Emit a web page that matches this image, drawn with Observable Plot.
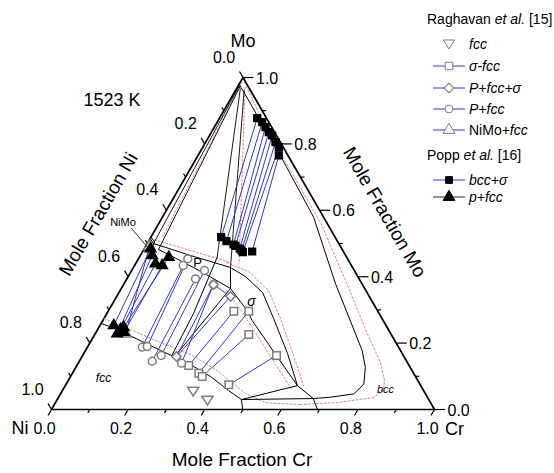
<!DOCTYPE html>
<html><head><meta charset="utf-8">
<script src="https://cdn.jsdelivr.net/npm/d3@7"></script>
<script src="https://cdn.jsdelivr.net/npm/@observablehq/plot@0.6"></script>
<style>
body{margin:0;background:#fff;}
#chart{width:554px;height:473px;}
</style></head><body><div id="chart"></div>
<script>
// ---------- DATA: compositions as [x_Cr, x_Mo] (x_Ni = 1 - x_Cr - x_Mo) ----------
const majorTicks = [0, 0.2, 0.4, 0.6, 0.8, 1.0];
const minorTicks = [0.1, 0.3, 0.5, 0.7, 0.9];
const tickLabels = ["0.0", "0.2", "0.4", "0.6", "0.8", "1.0"];
const frameVertices = [[0, 0], [1, 0], [0, 1], [0, 0]];

// calculated phase boundaries (solid black)
const bccBoundary = [[0, 0.98], [0.01, 0.97], [0.215, 0.765], [0.395, 0.579], [0.552, 0.379], [0.722, 0.178], [0.756, 0.127], [0.777, 0.077], [0.766, 0.047], [0.71, 0.037], [0.667, 0.033], [0.6945, 0]];
const fccBoundary = [[0, 0.259], [0.0451, 0.244], [0.0855, 0.226], [0.1957, 0.178], [0.2951, 0.1355], [0.3654, 0.0994], [0.4335, 0.0572], [0.481, 0.030], [0.499, 0]];
const fccSigmaBccTriangle = [[0.481, 0.030], [0.606, 0.072], [0.667, 0.033], [0.481, 0.030]];
const sigmaOuter = [[0.2535, 0.4277], [0.306, 0.4006], [0.375, 0.3524], [0.443, 0.274], [0.532, 0.1687], [0.606, 0.072]];
const sigmaInner = [[0.2535, 0.4277], [0.285, 0.3645], [0.362, 0.298], [0.390, 0.268], [0.499, 0.1687], [0.606, 0.072]];
const pTop = [[0, 0.515], [0.0163, 0.5], [0.131, 0.4639], [0.2535, 0.4277]];
const pBottom = [[0.0384, 0.4819], [0.0788, 0.4639], [0.1867, 0.4136], [0.285, 0.3645]];
const pSigmaFccLeft = [[0.2032, 0.4587], [0.2262, 0.2892], [0.233, 0.163]];
const pSigmaFccRight = [[0.285, 0.3645], [0.242, 0.159]];
const niMoRegion = [[0, 0.52], [0.016, 0.505], [0.02, 0.49], [0, 0.478]];
const apexLines = [
  [[0.003, 0.975], [0.0163, 0.5]],
  [[0.006, 0.972], [0.0384, 0.4819]],
  [[0.010, 0.966], [0.2032, 0.4587]],
  [[0.022, 0.962], [0.2535, 0.4277]]
];
// second calculation (red dotted)
const dottedLines = [
  [[0.0114, 0.985], [0.1157, 0.8705], [0.264, 0.7199], [0.4207, 0.5633], [0.5733, 0.3886], [0.7098, 0.2289], [0.7882, 0.1416], [0.8258, 0.0873], [0.8382, 0.0572], [0.8227, 0.0361], [0.7362, 0.0211], [0.6426, 0.0151]],
  [[0.2355, 0.4428], [0.3066, 0.4157], [0.3874, 0.3584], [0.4609, 0.2741], [0.5434, 0.1717], [0.6219, 0.0723]],
  [[0.2777, 0.3584], [0.3526, 0.2922], [0.4823, 0.1687], [0.6006, 0.0572]],
  [[0, 0.2741], [0.0858, 0.241], [0.1837, 0.2018], [0.2801, 0.1657], [0.368, 0.1205], [0.4824, 0.0482], [0.55, 0.02], [0.6426, 0.0151]],
  [[0.004, 0.985], [0.03, 0.52]],
  [[0.001, 0.515], [0.246, 0.4428]],
  [[0.02, 0.97], [0.27, 0.44]]
];

// Raghavan et al. [15]
const raghFcc = [[0.3424, 0.0551], [0.3933, 0.028]];
const raghSigmaFcc_sigma = [[0.328, 0.2961], [0.3671, 0.2961], [0.4021, 0.2259], [0.5062, 0.1627]];
const raghSigmaFcc_fcc = [[0.2922, 0.1325], [0.3299, 0.1093], [0.3438, 0.0994], [0.4257, 0.0744]];
const raghPFccSigma = [[0.235, 0.376], [0.2972, 0.3404], [0.2466, 0.1596]];
const raghPFcc_P = [[0.127, 0.4337], [0.1289, 0.4539], [0.1792, 0.3937], [0.1902, 0.4187], [0.2347, 0.3765]];
const raghPFcc_fcc = [[0.143, 0.1877], [0.155, 0.1898], [0.1902, 0.1455], [0.2051, 0.1627], [0.2697, 0.1395]];
const raghNiMoFcc_NiMo = [[0.0104, 0.491]];
const raghNiMoFcc_fcc = [[0.0792, 0.228]];
// Popp et al. [16]
const poppBccSigma_bcc = [[0.0984, 0.8774], [0.1174, 0.8654], [0.1335, 0.8503], [0.1498, 0.8352], [0.1635, 0.8253], [0.1823, 0.8051], [0.1985, 0.7901], [0.211, 0.7651]];
const poppBccSigma_sigma = [[0.1836, 0.519], [0.2034, 0.5069], [0.2267, 0.497], [0.2339, 0.4931], [0.2491, 0.4849], [0.2566, 0.4789], [0.2626, 0.4738], [0.286, 0.4759]];
const poppPFcc_P = [[0.0165, 0.484], [0.031, 0.4639], [0.0521, 0.4389], [0.0721, 0.4337], [0.0769, 0.4587]];
const poppPFcc_fcc = [[0.0362, 0.253], [0.0575, 0.228], [0.0597, 0.241], [0.0724, 0.2328], [0.065, 0.247]];

// region labels
const regionLabels = [
  {text: "P", pos: [0.1598, 0.4428], italic: false, size: 13},
  {text: "σ", pos: [0.3595, 0.3253], italic: true, size: 14},
  {text: "fcc", pos: [0.0891, 0.0934], italic: true, size: 12},
  {text: "bcc", pos: [0.842, 0.0602], italic: true, size: 11}
];

// ---------- RENDER ----------
const FONT = "'Liberation Sans', Arial, Helvetica, sans-serif";
const BLUE = "#3636cc", NAVY = "#23237a", GRAY = "#7d7d7d", RED = "#d98a8a";
const S3 = Math.sqrt(3) / 2;
const X = d => d[0] + d[1] / 2, Y = d => d[1] * S3;
const L = 7 / 383, Ls = 4 / 383; // tick lengths in data units (scale is 383 px per unit)

const invTriangle = {draw(ctx, size) {
  const s = Math.sqrt(size);
  ctx.moveTo(0, 0.62 * s); ctx.lineTo(0.7 * s, -0.5 * s); ctx.lineTo(-0.7 * s, -0.5 * s); ctx.closePath();
}};

const zipPairs = (a, b) => a.map((p, i) => [p, b[i]]);
const tri = t => [[t[0], t[1]], [t[1], t[2]], [t[2], t[0]]];
const link = (pairs, opts) => Plot.link(pairs, {x1: d => X(d[0]), y1: d => Y(d[0]), x2: d => X(d[1]), y2: d => Y(d[1]), ...opts});
const line = (pts, opts) => Plot.line(pts, {x: X, y: Y, ...opts});
const dots = (pts, opts) => Plot.dot(pts, {x: X, y: Y, ...opts});

// tick geometry
const bottomTick = (t, len) => ({x1: t, y1: 0, x2: t - 0.5 * len, y2: -S3 * len});
const rightTick = (t, len) => ({x1: 1 - t / 2, y1: t * S3, x2: 1 - t / 2 + len, y2: t * S3});
const leftTick = (t, len) => ({x1: (1 - t) / 2, y1: (1 - t) * S3, x2: (1 - t) / 2 - 0.5 * len, y2: (1 - t) * S3 + S3 * len});
const tickData = [
  ...majorTicks.map(t => bottomTick(t, L)), ...minorTicks.map(t => bottomTick(t, Ls)),
  ...majorTicks.map(t => rightTick(t, L * 1.5)), ...minorTicks.map(t => rightTick(t, Ls)),
  ...majorTicks.map(t => leftTick(t, L)), ...minorTicks.map(t => leftTick(t, Ls))
];
const labelData = majorTicks.map((t, i) => ({t, label: tickLabels[i]}));

const marks = [
  line(frameVertices, {stroke: "black", strokeWidth: 1.7}),
  Plot.link(tickData, {x1: "x1", y1: "y1", x2: "x2", y2: "y2", stroke: "black", strokeWidth: 1.2}),
  Plot.text(labelData, {x: d => d.t, y: 0, text: "label", dx: -7, dy: 19, fontSize: 16}),
  Plot.text(labelData, {x: d => 1 - d.t / 2, y: d => d.t * S3, text: "label", dx: 13, dy: 1, textAnchor: "start", fontSize: 16}),
  Plot.text(labelData, {x: d => (1 - d.t) / 2, y: d => (1 - d.t) * S3, text: "label", dx: -19, dy: -20, fontSize: 16}),
  ...dottedLines.map(p => line(p, {stroke: RED, strokeWidth: 1, strokeDasharray: "2,2"})),
  line(bccBoundary, {stroke: "black", strokeWidth: 1}),
  line(fccBoundary, {stroke: "black", strokeWidth: 1}),
  line(fccSigmaBccTriangle, {stroke: "black", strokeWidth: 1}),
  line(sigmaOuter, {stroke: "black", strokeWidth: 1}),
  line(sigmaInner, {stroke: "black", strokeWidth: 1}),
  line(pTop, {stroke: "black", strokeWidth: 1}),
  line(pBottom, {stroke: "black", strokeWidth: 1}),
  line(pSigmaFccLeft, {stroke: "black", strokeWidth: 1}),
  line(pSigmaFccRight, {stroke: "black", strokeWidth: 1}),
  line(niMoRegion, {stroke: "black", strokeWidth: 1}),
  ...apexLines.map(p => line(p, {stroke: "black", strokeWidth: 0.9})),
  // tie lines
  link(zipPairs(poppBccSigma_bcc, poppBccSigma_sigma), {stroke: BLUE, strokeWidth: 1}),
  link(zipPairs(poppPFcc_P, poppPFcc_fcc), {stroke: BLUE, strokeWidth: 1}),
  link(zipPairs(raghSigmaFcc_sigma, raghSigmaFcc_fcc), {stroke: BLUE, strokeWidth: 1}),
  link(zipPairs(raghPFcc_P, raghPFcc_fcc), {stroke: BLUE, strokeWidth: 1}),
  link(tri(raghPFccSigma), {stroke: BLUE, strokeWidth: 1}),
  link(zipPairs(raghNiMoFcc_NiMo, raghNiMoFcc_fcc), {stroke: BLUE, strokeWidth: 1}),
  // region labels
  ...regionLabels.map(r => Plot.text([r], {x: d => X(d.pos), y: d => Y(d.pos), text: "text", fontSize: r.size, fontStyle: r.italic ? "italic" : "normal"})),
  // markers
  dots(raghFcc, {symbol: invTriangle, r: 4.5, fill: "white", stroke: GRAY}),
  dots([...raghSigmaFcc_sigma, ...raghSigmaFcc_fcc], {symbol: "square", r: 4.2, fill: "white", stroke: GRAY}),
  dots([...raghPFcc_P, ...raghPFcc_fcc], {symbol: "circle", r: 3.9, fill: "white", stroke: GRAY}),
  dots(raghPFccSigma, {symbol: "diamond2", r: 4.2, fill: "white", stroke: GRAY}),
  dots([...raghNiMoFcc_NiMo, ...raghNiMoFcc_fcc], {symbol: "triangle", r: 4.2, fill: "white", stroke: GRAY}),
  dots([...poppBccSigma_bcc, ...poppBccSigma_sigma], {symbol: "square", r: 3.8, fill: "black", stroke: "black"}),
  dots([...poppPFcc_P, ...poppPFcc_fcc], {symbol: "triangle", r: 3.9, fill: "black", stroke: "black"})
];

const plot = Plot.plot({
  width: 554, height: 473, margin: 0,
  x: {domain: [0, 1], range: [51, 434], axis: null},
  y: {domain: [0, S3], range: [409, 77], axis: null},
  style: {fontFamily: FONT, background: "white", color: "black", overflow: "visible"},
  marks
});
document.getElementById("chart").appendChild(plot);

// ---------- annotations, axis titles, legend ----------
const svg = d3.select(plot);
const ann = svg.append("g").attr("font-family", FONT).attr("fill", "black");
const addText = (x, y, txt, size, opts = {}) => {
  const t = ann.append("text").attr("x", x).attr("y", y).attr("font-size", size)
    .attr("text-anchor", opts.anchor || "middle").attr("dy", "0.35em").text(txt);
  if (opts.transform) t.attr("transform", opts.transform).attr("x", 0).attr("y", 0);
  return t;
};
addText(243, 41, "Mo", 18);
addText(20, 428, "Ni", 18);
addText(445, 429, "Cr", 18, {anchor: "start"});
addText(112, 100, "1523 K", 18);
addText(242, 459, "Mole Fraction Cr", 19);
addText(0, 0, "Mole Fraction Ni", 19, {transform: "translate(98,214) rotate(-60)"});
addText(0, 0, "Mole Fraction Mo", 19, {transform: "translate(385,212) rotate(60)"});
addText(123, 222, "NiMo", 11);
ann.append("line").attr("x1", 131).attr("y1", 228).attr("x2", 150).attr("y2", 250).attr("stroke", "black").attr("stroke-width", 0.8);

const lg = svg.append("g").attr("font-family", FONT).attr("font-size", 14).attr("text-anchor", "start");
function richText(x, y, parts) {
  const t = lg.append("text").attr("x", x).attr("y", y).attr("dy", "0.35em").attr("text-anchor", "start");
  parts.forEach(([s, it]) => t.append("tspan").attr("font-style", it ? "italic" : "normal").text(s));
}
richText(427, 19, [["Raghavan ", false], ["et al.", true], [" [15]", false]]);
richText(427, 155, [["Popp ", false], ["et al.", true], [" [16]", false]]);
const legendItems = [
  {y: 44, sym: invTriangle, size: 64, fill: "white", stroke: GRAY, line: null, parts: [["fcc", true]]},
  {y: 66, sym: d3.symbolSquare, size: 56, fill: "white", stroke: GRAY, line: BLUE, parts: [["σ-fcc", true]]},
  {y: 88, sym: d3.symbolSquare, size: 46, fill: "white", stroke: GRAY, line: BLUE, parts: [["P+fcc+σ", true]], rot: 45},
  {y: 109, sym: d3.symbolCircle, size: 48, fill: "white", stroke: GRAY, line: BLUE, parts: [["P+fcc", true]]},
  {y: 130, sym: d3.symbolTriangle, size: 60, fill: "white", stroke: GRAY, line: BLUE, parts: [["NiMo+", false], ["fcc", true]]},
  {y: 180, sym: d3.symbolSquare, size: 46, fill: "black", stroke: "black", line: BLUE, parts: [["bcc+σ", true]]},
  {y: 197, sym: d3.symbolTriangle, size: 60, fill: "black", stroke: "black", line: NAVY, parts: [["p+fcc", true]]}
];
legendItems.forEach(it => {
  if (it.line) lg.append("line").attr("x1", 433).attr("x2", 465).attr("y1", it.y).attr("y2", it.y).attr("stroke", it.line).attr("stroke-width", 1);
  lg.append("path").attr("d", d3.symbol(it.sym, it.size)()).attr("transform", `translate(449,${it.y}) rotate(${it.rot || 0})`)
    .attr("fill", it.fill).attr("stroke", it.stroke).attr("stroke-width", 1);
  richText(469, it.y, it.parts);
});
</script>
</body></html>
